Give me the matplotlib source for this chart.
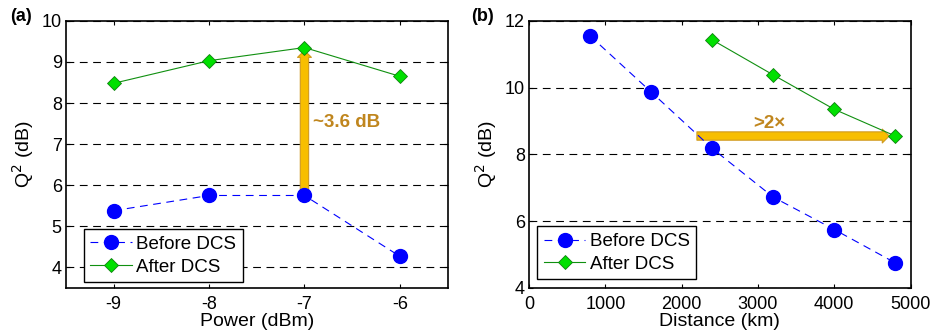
import matplotlib
matplotlib.use('Agg')
import matplotlib.pyplot as plt

plt.rcParams['font.family'] = ['Liberation Sans', 'DejaVu Sans']
plt.rcParams['axes.unicode_minus'] = False

# panel (a): Q^2 vs launch power
power = [-9, -8, -7, -6]
q_before_pow = [5.38, 5.75, 5.75, 4.27]
q_after_pow = [8.48, 9.03, 9.35, 8.65]

# panel (b): Q^2 vs distance
dist_before = [800, 1600, 2400, 3200, 4000, 4800]
q_before_dist = [11.55, 9.87, 8.18, 6.72, 5.75, 4.75]
dist_after = [2400, 3200, 4000, 4800]
q_after_dist = [11.43, 10.38, 9.35, 8.55]

BLUE = '#0000FF'
GREEN = '#00E000'
GREEN_LINE = '#109010'
ARROW_FILL = '#F7BE00'
ARROW_EDGE = '#D09A20'
TEXT_GOLD = '#C0861E'
ARROW_STYLE = 'simple,head_width=1.0,head_length=0.5,tail_width=0.6'

fig = plt.figure(figsize=(9.33, 3.36), dpi=100)
ax1 = fig.add_axes([0.0707, 0.143, 0.409, 0.795])
ax2 = fig.add_axes([0.567, 0.143, 0.409, 0.795])


def draw_series(ax, xb, yb, xa, ya, anchor):
    ax.plot(xb, yb, linestyle=(0, (7, 5)), color=BLUE, lw=0.8, marker='o',
            markersize=10, markerfacecolor=BLUE, markeredgecolor=BLUE,
            label='Before DCS', zorder=4)
    ax.plot(xa, ya, linestyle='-', color=GREEN_LINE, lw=0.8, marker='D',
            markersize=7.5, markerfacecolor=GREEN, markeredgecolor='#108010',
            markeredgewidth=0.6, label='After DCS', zorder=4)
    leg = ax.legend(loc='lower left', bbox_to_anchor=anchor, fontsize=13.5,
                    fancybox=False, framealpha=1, edgecolor='black',
                    handlelength=2.2, borderpad=0.35, labelspacing=0.3,
                    handletextpad=0.25, borderaxespad=0.0)
    leg.get_frame().set_linewidth(1.0)
    leg.set_zorder(6)


def style_axis(ax):
    ax.yaxis.grid(True, linestyle=(0, (7, 5)), color='black', lw=0.8)
    ax.set_axisbelow(True)
    ax.tick_params(labelsize=13, direction='in', length=3, width=0.8,
                   top=True, right=True)
    ax.tick_params(axis='x', pad=6)
    ax.tick_params(axis='y', pad=3)
    for s in ax.spines.values():
        s.set_linewidth(1.2)
    ax.set_ylabel('Q$^2$ (dB)', fontsize=14, labelpad=4)


# (a)
draw_series(ax1, power, q_before_pow, power, q_after_pow, (0.047, 0.022))
ax1.set_xlim(-9.5, -5.5)
ax1.set_ylim(3.5, 10)
ax1.set_xticks(power)
ax1.set_yticks(range(4, 11))
ax1.set_xlabel('Power (dBm)', fontsize=14, labelpad=0)
style_axis(ax1)
ax1.annotate('', xy=(-7, 9.28), xytext=(-7, 5.9),
             arrowprops=dict(arrowstyle=ARROW_STYLE, fc=ARROW_FILL, ec=ARROW_EDGE,
                             lw=0.8, shrinkA=0, shrinkB=0),
             zorder=3)
ax1.text(-6.91, 7.52, '~3.6 dB', color=TEXT_GOLD, fontsize=13.5, fontweight='bold',
         va='center', ha='left')

# (b)
draw_series(ax2, dist_before, q_before_dist, dist_after, q_after_dist, (0.022, 0.032))
ax2.set_xlim(0, 5000)
ax2.set_ylim(4, 12)
ax2.set_xticks(range(0, 5001, 1000))
ax2.set_yticks(range(4, 13, 2))
ax2.set_xlabel('Distance (km)', fontsize=14, labelpad=0)
style_axis(ax2)
ax2.annotate('', xy=(4720, 8.55), xytext=(2200, 8.55),
             arrowprops=dict(arrowstyle=ARROW_STYLE, fc=ARROW_FILL, ec=ARROW_EDGE,
                             lw=0.8, shrinkA=0, shrinkB=0),
             zorder=3)
ax2.text(3155, 8.94, '>2\u00d7', color=TEXT_GOLD, fontsize=13.5, fontweight='bold',
         va='center', ha='center')

fig.text(0.011, 0.95, '(a)', fontsize=13, fontweight='bold', va='center')
fig.text(0.505, 0.95, '(b)', fontsize=13, fontweight='bold', va='center')

fig.savefig('out.png', dpi=100)
